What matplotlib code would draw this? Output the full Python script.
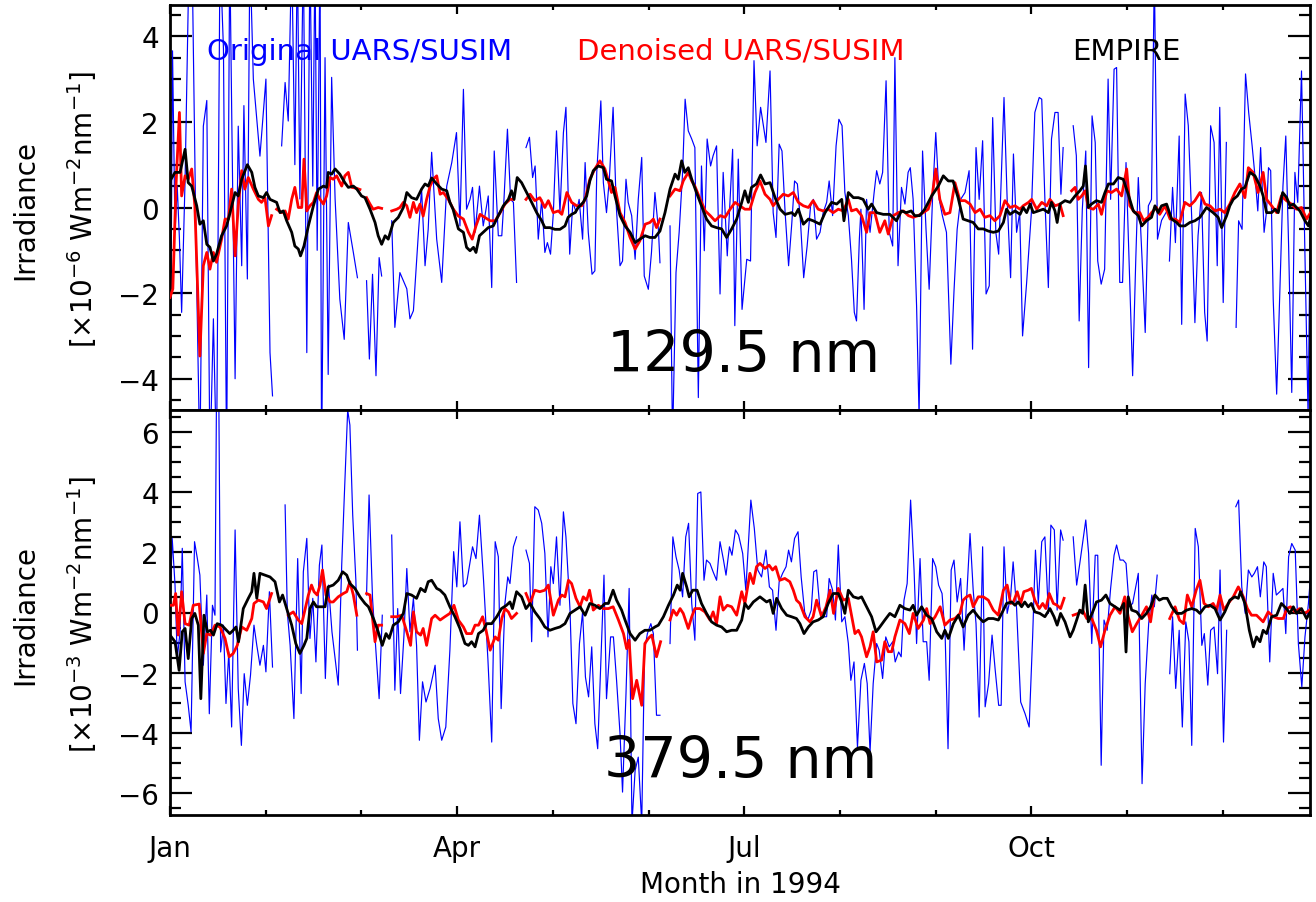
import numpy as np
import matplotlib
matplotlib.use("Agg")
import matplotlib.pyplot as plt
from matplotlib.ticker import FixedLocator, MultipleLocator, NullFormatter

plt.rcParams['font.family'] = ['DejaVu Sans']
plt.rcParams['mathtext.fontset'] = 'dejavusans'
plt.rcParams['mathtext.default'] = 'regular'

# ---------------- data: (day of 1994, value); None = missing day ----------------
top_black = [(0,0.62),(1.6,0.82),(3.2,0.82),(4.8,1.36),(5.8,0.58),(6.9,0.5),(8.5,0.04),(9.5,-0.39),(10.6,-0.31),(11.7,-0.86),(12.7,-0.93),(13.8,-1.25),(14.8,-1.09),(16.4,-0.66),(18,-0.43),(19.1,-0.12),(20.7,0.35),(21.7,0.27),(22.8,0.66),(24.6,1.0),(26,0.82),(27,0.47),(28.1,0.27),(29.7,0.23),(30.7,0.35),(31.8,0.19),(33.9,0.12),(35,-0.12),(36,-0.08),(37.1,-0.31),(38.7,-0.58),(39.7,-0.9),(40.8,-0.97),(41.5,-1.13),(42.6,-0.9),(44,-0.43),(45.6,0.04),(47.2,0.43),(48.8,0.5),(49.8,0.47),(50.3,0.82),(51.4,0.78),(52.5,0.9),(54,0.78),(55.6,0.58),(56.7,0.47),(58.3,0.5),(59.4,0.43),(60.9,0.27),(62,0.23),(63.6,-0.04),(65.2,-0.35),(66.2,-0.66),(67.3,-0.86),(68.4,-0.66),(69.4,-0.74),(71,-0.35),(72.6,-0.23),(74.2,0),(75.3,0.35),(76.8,0.23),(78.4,0.19),(80,0.43),(81.1,0.55),(82.1,0.5),(83.2,0.69),(84.8,0.55),(86.4,0.43),(88,0.39),(89,0.12),
 (90,-0.04),(91.7,-0.5),(93.3,-0.58),(94.3,-0.93),(95.4,-1.01),(96.5,-0.93),(97.3,-1.05),(98.4,-0.66),(99.6,-0.58),(101.2,-0.47),(102.8,-0.43),(104.4,-0.19),(106,0.04),(107.6,0.19),(108.6,0.39),(109.4,0.19),(110.4,0.7),(111.8,0.58),(113.4,0.35),(115,0.12),(116.6,-0.12),(118.2,-0.31),(119.2,-0.47),(120.8,-0.47),(122.4,-0.51),(124,-0.51),(125.6,-0.43),(126.6,-0.23),(127.7,-0.16),(128.8,-0.12),(129.8,0),(131.4,0.12),(132.5,0.27),(133.5,0.62),(134.6,0.86),(136.2,0.97),(137.8,0.93),(138.8,0.66),(140.4,0.62),(141.5,0.27),(143.1,-0.19),(144.7,-0.43),(146.3,-0.58),(147.9,-0.82),(149.4,-0.74),(151.1,-0.66),(152.6,-0.7),(154.2,-0.7),(155.8,-0.55),(157.4,-0.12),(159,0.43),(160.6,0.78),(161.6,0.66),(162.7,1.09),(163.7,0.82),(164.8,0.93),(165.9,0.66),(167.4,0.35),(169,0.04),(170.6,-0.27),(172.2,-0.43),(173.8,-0.47),(175.4,-0.5),(177,-0.7),(178.6,-0.5),(180.2,-0.27),
 (181.8,0.12),(182.8,0.39),(183.9,0.12),(184.9,0.47),(186.5,0.55),(187.8,0.76),(189.2,0.55),(190.8,0.58),(192.4,0.23),(194,-0.04),(195.6,-0.16),(197.7,-0.12),(198.7,-0.19),(199.8,-0.04),(201.4,-0.39),(203,-0.27),(204.5,-0.31),(206.7,-0.39),(208.3,-0.12),(210.4,0.12),(212,0.08),(213.6,0.19),(214.3,-0.31),(215.7,0.35),(217.3,0.23),(218.9,0.23),(220.4,0.19),(222,-0.04),(223.1,0.08),(224.7,-0.12),(226.8,-0.16),(228.9,-0.16),(231,-0.31),(232.6,-0.08),(234.1,-0.12),(235.7,-0.08),(236.8,-0.19),(238.4,-0.19),(240,-0.04),(242.2,0.27),(244.3,0.5),(245.9,0.74),(247.5,0.62),(249,0.62),(250.6,0.23),(252.2,-0.27),(253.8,-0.31),(255.4,-0.35),(257,-0.5),(258.6,-0.5),(260.2,-0.55),(261.8,-0.58),(263.4,-0.55),
 (265,-0.35),(266,-0.04),(267.1,-0.16),(268.7,-0.08),(270.3,-0.16),(271.3,0),(272.4,-0.12),(273.5,0.08),(274.5,-0.12),(276.1,-0.08),(277.7,-0.04),(279.3,-0.12),(280.3,0.12),(281.4,-0.08),(282.1,-0.35),(283,0.08),(284.6,0.16),(286.2,0.12),(287.8,0.27),(289.3,0.39),(290.4,0.5),(291.1,0.97),(292,0),(293,0.08),(294.6,0.16),(296.2,0.12),(297.3,0.35),(298.4,0.55),(300,0.55),(301.5,0.7),(303.1,0.66),(304.7,0.31),(306.3,-0.08),(307.9,-0.19),(309,-0.43),(310.5,-0.31),(312.1,-0.23),(313.2,0.04),(314.2,-0.12),(315.3,0.04),(316.9,0.08),(318.5,-0.27),(320.1,-0.35),(321.1,-0.43),(322.7,-0.43),(324.3,-0.35),(325.9,-0.31),(327.5,-0.23),(329.6,0),(331.7,-0.12),(333.3,-0.23),(334.4,-0.47),(336,-0.19),(337,0.04),(338.1,0.19),(339.4,0.27),(340.7,0.43),(341.8,0.47),(343.4,0.82),(345,0.74),(346.6,0.5),(347.6,0.27),(348.7,-0.12),(350.3,-0.12),(351.4,-0.04),(352.4,-0.12),(353.8,0.35),(355.1,0.23),(356.1,0.04),(357.2,0.08),(358.2,0),(359.3,-0.08),(360.9,-0.31),(362,-0.43),(363,-0.12)]

top_red = [(0,-2.1),(0.9,-1.9),(1.9,0.5),(3,2.22),(3.7,0.27),(4.8,0.74),(5.8,0.66),(6.9,0.9),(7.9,0.04),(9.5,-3.47),(10.6,-1.36),(11.7,-1.05),(12.7,-1.44),(13.8,-1.05),(14.8,-1.28),(16.4,-0.74),(17.5,-0.27),(18.6,-0.27),(19.6,0.43),(20.7,-1.13),(21.7,0.04),(22.8,0.86),(23.8,0.43),(24.9,0.7),(26.5,0.43),(28.1,0.19),(29.1,0.12),(30.2,0.23),(31.3,-0.43),(32.3,-0.19),(33.1,None),(33.9,-0.04),(35.5,-0.12),(36.6,-0.08),(37.6,-0.27),(38.7,0.19),(39.7,0.47),(40.8,0),(41.9,0),(42.6,1.13),(43.5,-0.08),(44.5,0.04),(45.6,0.12),(46.6,0.35),(47.7,0.19),(48.8,0.08),(49.8,0.27),(50.9,0.7),(51.9,0.66),(53,0.74),(54.6,0.5),(55.6,0.74),(56.7,0.82),(57.8,0.47),(59.3,0.45),(60.4,0.42),(61.4,None),(62.5,0.23),(63.6,0.08),(64.6,-0.04),(66.2,0),(67.3,-0.02),(68.9,None),(70.5,-0.08),(72.1,-0.04),(73.1,0),(74.2,0.12),(75.3,0.04),(76.3,-0.23),(77.4,0.12),(78.4,-0.12),(79.5,0.08),(80.5,-0.2),(81.6,0.19),(82.7,0.5),(83.7,0.66),(84.8,0.74),(85.9,0.31),(86.9,0.35),(88.5,0.19),(90.1,-0.04),(91.7,-0.2),
 (93.3,-0.27),(94.9,-0.58),(96.1,-0.74),(97.3,-0.43),(98.6,-0.16),(100.1,-0.23),(101.8,-0.31),(103.4,-0.31),(105,-0.12),(106.5,0.08),(108.1,0.19),(109.2,0.19),(111,None),(113.2,0.19),(114.5,0.31),(116,0.16),(117.6,0.23),(119.2,0),(120.3,0.16),(121.9,-0.12),(123.5,-0.08),(124.6,-0.16),(126.2,0.35),(127.7,0.12),(129.3,0.04),(130.9,0.04),(132,0.19),(133.5,0.66),(135.1,0.9),(136.7,1.09),(138.3,0.9),(139.4,0.62),(140.4,0.35),(141.5,0.47),(143.1,-0.12),(144.7,-0.35),(146.3,-0.7),(147.9,-0.97),(149.4,-0.78),(151.1,-0.39),(152.6,-0.35),(153.7,-0.27),(154.7,-0.47),(155.8,-0.27),(157.4,None),(159,0.27),(160.6,0.43),(162.2,0.39),(163.2,0.62),(164.8,0.82),(165.9,0.62),(166.9,0.5),(168.6,0.19),(170.2,-0.08),(171.8,-0.19),(173.3,-0.31),(175,-0.19),(176.5,-0.23),(178.1,-0.04),(179.7,0.12),
 (181.2,0.04),(182.8,-0.04),(184.4,-0.04),(186,0.35),(187.6,0.62),(189.2,0.31),(190.8,0.19),(191.8,0.04),(193.4,0.19),(195,0.31),(196.6,0.27),(198.2,0.35),(199.8,0.12),(201.4,0.04),(203,0),(204.5,0.16),(206.1,-0.04),(207.7,-0.08),(209.3,-0.04),(210.9,-0.12),(212.5,-0.04),(214.1,-0.08),(215.7,0.19),(216.7,-0.08),(218.3,-0.04),(219.9,-0.19),(221.5,-0.58),(222.6,-0.12),(224.1,-0.12),(225.7,-0.58),(227.3,-0.31),(228.4,-0.62),(230,-0.19),(231.6,-0.12),(233.2,-0.08),(234.8,-0.19),(236.3,-0.23),(237.9,-0.19),(239.5,-0.12),(241.1,-0.04),(242.5,0.35),(243.5,0.9),(244.8,0.19),(246.4,-0.16),(248,-0.12),(249.6,0.58),(251.2,0.16),(252.8,0.16),(254.4,0.08),(256,-0.12),(257.6,-0.04),(259.1,-0.23),(260.7,-0.19),(262.3,-0.31),(263.9,-0.19),(265.5,0.16),(267.1,0),(268.7,0.04),(270.3,-0.04),
 (271.3,0.04),(273,0.12),(274,0.19),(275.6,-0.04),(277.2,0.12),(278.8,0.04),(279.8,0.19),(281.4,0.04),(283,0.08),(284,-0.19),(285.4,None),(286.7,0.39),(287.8,0.47),(288.8,0.19),(289.9,0.27),(291,0.39),(292,0),(293.6,-0.04),(295.2,0.08),(296.2,-0.16),(297.9,0.39),(299.4,0.35),(301,0.43),(302.6,0.27),(304.2,0.9),(305.2,0.04),(306.8,-0.12),(308.4,-0.12),(309.6,-0.31),(311,-0.23),(312.1,-0.12),(313.7,0),(314.7,-0.16),(316.4,0.04),(318,-0.27),(319.6,-0.27),(321.1,-0.35),(322.7,0.12),(324.3,0.04),(325.9,0.16),(327.5,0.35),(329.1,0.08),(330.7,0.04),(332.3,-0.08),(333.9,-0.04),(335.4,-0.12),(337,0.08),(338.6,0.35),(340.2,0.55),(341.8,0.23),(342.9,0.93),(344.4,0.82),(346,0.35),(347.6,0.82),(348.7,0.19),(350.3,0.04),(351.9,-0.12),(353.4,0.27),(355,0.16),(356.6,0.08),(358.2,-0.04),(359.8,0),(361.4,-0.27),(363,-0.08)]

top_blue = [(0,-6),(0.8,3.66),(1.6,-0.58),(2.3,0.5),(3,-0.74),(3.7,-2.45),(4.8,0.66),(6.1,6),(7,6),(8.3,-1),(9.5,-6),(10.6,1.9),(11.7,2.5),(12.7,-6),(13.8,-2.6),(14.8,-6),(15.9,6),(17,3.7),(18,-6),(19,6),(19.7,1.75),(20.7,-4.0),(21.7,1.9),(22.8,-1.36),(23.5,2.38),(24.6,-1.67),(25.4,6),(26.5,3.0),(28.6,1.2),(30.5,3.0),(31.8,-3.39),(32.6,-4.4),(34,None),(35.5,1.44),(36.6,2.92),(37.6,2.02),(38.7,6),(39.7,1.0),(40.5,6),(41.3,0.2),(42.4,6),(43.5,-3.39),(44.5,6),(45.4,0.5),(46.1,6),(46.8,-1.0),(47.7,6),(48.2,-6),(49.3,3.5),(50.3,-3.9),(51.4,3.04),(52.5,0.2),(54,-2.14),(55.4,-3.08),(56.7,-0.35),(58.3,-1.05),(59.6,-1.64),(61,None),(62.5,-1.71),(63.4,-3.54),(64.4,-1.56),(65.5,-3.93),(66.5,-1.17),(67.3,-1.6),(69,None),(70.5,-0.31),(71.5,-2.8),(73.1,-1.52),(75.3,-1.9),(76.3,-2.6),(77.4,-2.41),(79,-0.58),(80,0.43),(81.1,-1.36),(82.1,-0.51),(83.2,1.29),(84.8,-0.74),
 (86.4,-1.75),(88,0.5),(89.6,1.05),(91.1,1.75),(92.2,-0.43),(93.3,2.76),(94.3,-0.04),(95.4,0.19),(96.2,0.47),(97,-0.58),(98.4,0.5),(99.6,-0.43),(101.2,0.27),(102.3,-1.87),(103.1,1.32),(104.4,-0.66),(105.5,-0.66),(106.2,0.19),(107.3,1.83),(108.3,0.19),(109.2,0.12),(110.2,-1.75),(111.7,None),(113.2,1.4),(114.3,1.64),(115.3,0.7),(116.1,0.97),(117.1,-0.74),(118.2,0.19),(119.2,-1.05),(120,-0.82),(121,-1.09),(121.9,-0.12),(122.9,1.79),(124,-0.12),(125.1,1.75),(125.9,2.34),(127.1,-1.09),(128.1,0.12),(129.2,-0.12),(130.1,0.19),(131.2,-0.74),(132,1.05),(133,-0.58),(134.2,-1.56),(135.1,-1.48),(135.7,0.82),(137,2.49),(137.8,0.58),(138.8,-0.12),(139.7,0.66),(140.9,2.34),(141.9,0.04),(143.1,-1.36),(143.9,-1.25),(145,0.66),(145.7,0.12),(146.8,-0.19),(147.9,-1.21),(148.9,0.19),(150,1.17),(150.8,-1.6),(152.1,-1.91),(153.1,-1.05),(154.2,0.35),(155.3,-0.51),(155.8,-1.29),(157.4,None),(159,-0.43),(159.8,-5.5),(160.9,-1.52),(161.9,-0.58),(163,0.82),(163.8,2.53),(164.8,1.79),(165.9,1.6),(166.9,1.4),(168,-4.44),(169,0.97),(169.9,-1.01),(170.8,1.6),(171.9,0.97),(172.7,1.21),(173.8,1.44),
 (174.9,-2.02),(175.9,0.82),(177.2,-1.13),(178.9,1.36),(179.6,-2.76),(180.7,1.13),(181.9,-2.38),(183.4,-1.21),(184.6,-1.25),(185.7,3.43),(186.7,1.44),(187.8,2.34),(189.5,1.52),(190.8,3.19),(191.8,-0.12),(192.7,-0.7),(193.7,1.48),(194.6,1.32),(195.6,-0.12),(196.7,-1.36),(197.7,-0.39),(198.6,0.62),(199.5,0.55),(200.5,-0.35),(201.5,-1.64),(202.6,-0.9),(203.7,0.04),(204.6,0.19),(205.6,-0.74),(206.7,-0.58),(207.7,-0.12),(208.8,0.12),(209.6,0.62),(210.7,-0.19),(211.8,1.44),(212.7,2.06),(213.7,1.91),(214.6,0.35),(215.7,-0.19),(216.7,-1.21),(217.6,-2.45),(218.3,-2.65),(219.2,-0.74),(219.7,-0.04),(220.7,-2.38),(221.5,0.19),(222.6,-0.58),(223.9,0.35),(224.7,0.86),(225.7,0.55),(226.6,0.82),(227.7,2.96),(228.7,-0.58),(229.8,-0.9),(230.5,3.5),(231.5,-1.36),(232.6,0.47),(233.7,0.08),(234.7,0.82),(235.4,0.93),(236.3,0.19),(237.4,-2.3),(238.2,-4.9),(239.3,1.32),(240.4,-0.51),(241.4,-1.91),(242.5,0.27),(243.5,1.75),(244.6,0.19),(245.6,-0.19),(246.9,-0.58),(248.3,-3.66),(249.3,-1.95),(250.3,-0.51),(251.4,0.19),(252.8,0.35),(254.1,0.86),(255.2,-3.31),(256.3,1.4),(257.3,0.19),(258.4,1.56),(259.5,-2.02),(260.5,-1.83),(261.6,2.1),(262.6,-0.58),(263.5,-1.09),(264.4,0.82),(265.2,2.57),(266.2,0.19),(267.3,-1.64),(268.2,1.25),(269.2,-0.58),(270.2,-0.12),
 (271.1,-3.0),(272.4,-1.75),(273.9,-0.12),(275,2.22),(276.4,2.57),(277.2,2.53),(278.2,0.19),(279.3,-1.87),(280.3,1.6),(281.4,2.22),(282.4,2.22),(283.3,0.31),(284,1.4),(285.6,None),(287.2,1.91),(288.2,1.21),(289.1,-2.65),(290.1,-0.04),(291.2,1.32),(292.1,-3.74),(293.2,2.14),(294.2,1.52),(295,-1.25),(296.1,-1.79),(297.2,-1.44),(298.3,3.0),(299.1,0.19),(300.2,3.23),(301,3.27),(302,-1.75),(302.9,-1.75),(304,1.05),(305,-1.36),(306.1,-3.93),(307.1,-1.21),(307.9,0.7),(309.1,-1.21),(310.1,-2.92),(311.1,0.04),(312.1,0.19),(313,5.5),(314,-0.74),(315.3,-0.3),(316.7,-0.12),(317.3,None),(317.8,-1.25),(318.8,0.47),(319.7,-0.82),(320.9,1.67),(321.7,-2.73),(322.8,2.65),(323.8,1.91),(324.9,-0.27),(325.9,-2.69),(326.9,-0.66),(328,0.35),(329,-2.45),(329.8,-3.12),(330.9,1.91),(332,1.52),(333,-1.36),(333.8,2.34),(334.9,-2.22),(335.9,1.52),(337.5,None),(339,-2.8),(339.8,-0.31),(340.9,-0.51),(342,3.12),(343,2.22),(344.1,1.44),(345.1,0.66),(345.9,-0.08),(346.8,1.4),(347.9,-0.58),(348.7,-0.08),(349.3,0.93),(350,0.86),(350.8,-2.14),(351.9,-4.36),(352.9,-1.99),(353.9,0.5),(354.8,1.67),(355.7,-0.9),(356.7,-4.32),(357.7,0.82),(358.6,0.12),(359.8,3.19),(360.8,-0.74),(361.9,-4.9),(362.7,0.58)]

bot_black = [(0,-0.75),(1.6,-0.97),(2.9,-1.92),(3.9,-0.64),(4.8,-0.53),(5.8,-1.53),(6.9,-0.2),(7.9,-0.03),(9,-0.42),(9.8,-2.86),(10.8,-0.09),(11.9,-0.64),(12.9,-0.59),(13.8,-0.75),(15,-0.37),(16.4,-0.42),(18,-0.59),(19,-0.7),(20.1,-0.59),(21,-0.48),(21.8,-0.97),(23.3,0.13),(24.9,0.47),(26,0.69),(26.7,1.3),(27.6,0.47),(28.6,1.3),(30.2,1.24),(31.8,1.18),(33.4,1.02),(34.8,0.35),(35.8,0.58),(37.1,0.13),(38.7,-0.42),(40,-1.03),(41.3,-1.36),(42.6,-1.09),(43.5,-0.86),(44.5,0.13),(45.6,0.35),(46.6,0.19),(48.2,0.19),(49.3,0.19),(50.3,0.85),(51.9,0.91),(53.5,1.07),(54.9,1.35),(56.2,1.24),(57.2,0.96),(58.8,0.8),(60.4,0.52),(62,0.3),(63.1,0.19),(64.7,-0.2),(66.2,-0.64),(67.5,-1.09),(68.7,-0.7),(69.7,-0.86),(71,-0.42),(72.6,-0.31),(74.2,-0.03),(75.3,0.63),(76.8,0.58),(78.4,0.47),(79.7,0.8),(81.1,0.69),(82.1,1.02),(83.2,1.07),(84.8,0.8),
 (85.9,0.74),(87.4,0.58),(89,0.19),(90.6,-0.14),(92.2,-0.53),(93.8,-1.03),(94.9,-1.09),(95.9,-0.97),(97,-1.14),(98.1,-0.7),(99.6,-0.59),(100.7,-0.37),(102.3,-0.37),(103.9,-0.14),(105.4,0.13),(107,0.24),(108.1,0.35),(108.9,0.13),(110.2,0.69),(111.8,0.52),(113.2,0.13),(114.5,0.3),(116,0.02),(117.6,-0.2),(119.2,-0.48),(120.8,-0.59),(122.4,-0.53),(124,-0.48),(125.6,-0.37),(127.2,-0.03),(128.8,0.08),(130.4,0.19),(132,-0.09),(133.5,0.3),(135.1,0.24),(136.7,0.13),(138.3,0.3),(139.4,0.3),(140.9,0.74),(142,0.41),(143.6,0.08),(144.7,-0.25),(146.3,-0.7),(147.9,-0.92),(149.4,-0.7),(151,-0.59),(152.6,-0.59),(154.2,-0.48),(155.3,-0.42),(156.9,-0.14),(158.5,0.24),(160.1,0.58),(161.3,0.91),(162.2,0.74),(163,1.3),(164.3,0.85),(165.1,0.52),(166.2,0.74),(167.6,0.74),(169,0.3),(170.6,-0.03),(172.2,-0.31),(173.8,-0.42),(175.4,-0.48),(177,-0.64),(178.6,-0.59),(180.2,-0.59),
 (181.8,-0.25),(182.8,0.3),(183.9,0.13),(185.5,0.35),(187.6,0.52),(189.7,0.35),(190.8,0.41),(191.8,-0.03),(192.9,0.47),(194.5,0.13),(196.1,-0.09),(197.6,-0.14),(199.2,-0.2),(200.3,-0.37),(201.6,-0.7),(203,-0.48),(204.5,-0.31),(206.1,-0.25),(207.7,-0.14),(209.3,0.3),(210.9,0.63),(212.5,0.63),(213.6,0.35),(214.6,-0.03),(215.7,0.74),(217.3,0.52),(218.9,0.47),(219.9,0.52),(221.5,0.19),(223.1,-0.14),(224.5,-0.64),(225.7,-0.48),(227.3,-0.25),(228.9,-0.03),(230.5,-0.14),(232.1,0.24),(233.7,0.13),(235.3,0.08),(236.3,0.24),(237.4,-0.09),(239,0.19),(240.6,-0.09),(242.2,-0.2),(243.8,-0.64),(245.4,-0.86),(246.4,-0.59),(247.5,-0.86),(249.1,-0.37),(250.7,-0.09),(252.2,-0.48),(253.8,-0.09),(255.4,0.08),(257,-0.14),(258.6,-0.31),(260.2,-0.2),(261.8,-0.2),(263.4,-0.25),
 (265,0.08),(266,0.3),(267.6,0.35),(268.7,0.24),(269.7,0.35),(270.8,0.19),(271.8,0.35),(272.9,0.19),(273.9,0.3),(275,0.02),(276.6,-0.03),(278.2,-0.14),(279.8,0.13),(281.1,-0.14),(282.1,-0.42),(283.2,-0.03),(284.6,-0.31),(286.2,-0.81),(287.2,-0.59),(288.3,-0.25),(289.3,0.08),(290.2,-0.03),(291,0.91),(292,-0.31),(293.4,0.02),(294.6,0.35),(296.2,0.41),(297.6,0.58),(298.9,0.3),(300.5,0.19),(302.1,0.08),(303.3,0.3),(304,-1.31),(304.7,0.52),(305.8,0.08),(307.4,0.02),(309,-0.2),(310.5,-0.03),(311.8,0.19),(313.2,0.58),(314.6,0.41),(315.8,0.47),(317.1,0.47),(318.5,0.19),(320.1,-0.03),(321.7,-0.03),(323.3,0.08),(324.9,0.13),(326.4,0.08),(327.5,-0.03),(329.1,0.19),(330.7,0.24),(332.3,0.13),(333.9,-0.25),(335.4,0.02),(337,0.41),(338.6,0.52),(339.7,0.47),(340.4,0.69),(341.8,0.3),(343.2,-0.59),(344.5,-1.14),(345.5,-0.81),(346.6,-0.97),(347.6,-0.59),(348.7,-0.7),(350.3,-0.14),(351.9,-0.09),(353.4,0.3),(355,0.13),(356.1,-0.03),(357.2,0.19),(358.2,-0.03),(359.8,0.13),(361.4,-0.2),(363,0.08)]

bot_red = [(0,0.24),(1.1,0.24),(1.8,0.63),(2.6,-0.75),(3.7,0.69),(4.8,-0.37),(6.1,-0.42),(7.4,0.24),(9.3,0.28),(10.6,-1.36),(11.7,-0.7),(12.9,-0.75),(14.3,-0.42),(15.9,-0.48),(17.5,-0.86),(18.8,-1.47),(20.1,-1.36),(21.4,-1.09),(22.8,-0.48),(24.4,-0.59),(26,-0.2),(26.7,0.3),(28.1,0.41),(29.7,0.35),(30.7,0.13),(32.3,0.63),(35,None),(37.6,-0.09),(39.2,0.02),(40.8,-0.25),(41.9,-0.37),(43,0.13),(44,0.58),(45,0.91),(45.8,0.69),(46.8,0.58),(47.7,0.91),(48.5,1.41),(49.6,0.58),(50.9,0.35),(51.9,0.35),(53.5,0.52),(55.1,0.63),(56.2,0.69),(57.2,1.02),(58.3,0.58),(59.4,-0.09),(61,None),(62.5,0.63),(63.6,0.58),(65.2,-0.97),(66.2,-0.42),(67.3,-0.42),(69,None),(70.5,-0.14),(72.1,-0.14),(73.7,-0.09),(75.3,-0.64),(76.5,-1.09),(77.4,0.02),(78.4,-0.64),(79.7,-0.75),(80.5,-0.53),(81.6,-1.09),(83.2,-0.2),(84.3,-0.09),
 (85.9,-0.25),(87.4,-0.14),(89,-0.03),(90.3,0.24),(91.7,-0.25),(93.3,-0.48),(94.3,-0.7),(95.9,-0.7),(97,-0.42),(98.1,-0.42),(99.4,-0.14),(100.5,-0.59),(101.8,-1.25),(103.4,-0.81),(104.4,-0.92),(105.5,-0.2),(106.5,0.13),(107.6,0.02),(108.6,-0.2),(110.2,-0.03),(111.7,None),(113.2,0.63),(114.5,0.3),(116,0.74),(117.6,0.69),(119.2,0.74),(120.3,0.91),(121.9,-0.09),(123.5,0.41),(124.6,0.58),(125.6,0.52),(126.7,1.07),(127.7,0.96),(129.1,0.47),(130.4,0.19),(131.4,0.52),(132.5,0.41),(133.4,0.74),(134.6,0.08),(136.2,0.24),(137.8,0.13),(139.4,0.13),(140.9,0.19),(142.6,-0.25),(144.2,-0.7),(145.2,-1.2),(146,-0.92),(147.1,-2.86),(148.4,-2.25),(150,-3.08),(151,-1.03),(152.1,-0.86),(153.2,-0.75),(154.7,-1.47),(156,-0.97),(157.5,None),(159,-0.25),(160,0.08),(161.1,-0.09),(162.2,0.13),(163.2,-0.03),(164.8,-0.53),(165.9,-0.14),(166.9,0.13),(168.5,0.13),(170.1,0.02),(171.7,-0.25),(172.7,0.02),(173.8,-0.37),(174.9,0.52),(175.9,0.08),(177.2,0.24),(178.6,0.19),(180.2,-0.09),
 (181.8,0.69),(182.8,0.3),(184.4,1.3),(185.5,0.96),(186.5,1.52),(187.6,1.63),(189.2,1.46),(190.5,1.57),(191.6,1.41),(192.6,1.52),(193.9,1.07),(195.5,1.13),(197.1,1.02),(198.2,0.74),(199.2,0.41),(200.3,0.3),(201.9,-0.14),(203.5,-0.31),(204.5,-0.14),(205.6,0.41),(207.2,-0.14),(208.6,0.19),(209.9,0.74),(211,-0.03),(212.5,0.8),(214.1,0.41),(215.7,0.47),(216.8,-0.14),(217.8,-0.7),(218.9,-0.59),(219.9,-0.81),(221.5,-1.47),(222.6,-1.14),(223.6,-0.64),(224.7,-1.64),(226.3,-1.58),(227.3,-0.97),(228.4,-1.3),(229.5,-1.3),(230.5,-0.81),(232.1,-0.25),(233.7,-0.37),(235.1,-0.7),(236.3,-0.03),(237.9,-0.53),(239.6,-0.25),(240.6,0.13),(241.7,-0.37),(243.3,-0.14),(244.9,0.19),(246.4,-0.42),(248,-0.25),(249.6,-0.2),(251.2,-0.03),(252.2,0.41),(253.3,0.52),(254.4,0.58),(255.4,0.19),(257,0.52),(258.6,0.52),(260.2,0.41),(261.8,0.08),(263.4,-0.09),
 (265,0.74),(266.2,0.91),(267.3,0.3),(268.2,0.35),(269.4,0.69),(270.5,0.3),(271.5,0.69),(272.9,0.74),(273.9,0.8),(275,0.41),(276.4,0.13),(277.5,0.3),(278.5,0.13),(279.6,0.63),(280.9,0.3),(282.1,0.24),(283.2,0.13),(284.3,0.47),(285.7,None),(287.2,-0.09),(288.8,-0.03),(290.2,0.08),(291.5,-0.2),(293.1,-0.2),(294.6,-0.59),(295.9,-1.14),(297.3,-0.59),(298.9,-0.09),(300.5,0.19),(302.1,-0.03),(303.6,0.52),(304.7,-0.14),(306,-0.64),(307.4,-0.37),(309,-0.09),(310.5,0.19),(311.8,-0.31),(312.9,0.52),(315.5,None),(317.9,-0.2),(319.6,0.19),(321,-0.25),(322.3,-0.37),(323.5,0.58),(324.9,0.19),(326.3,0.74),(327.5,1.07),(328.8,0.3),(330.2,0.19),(331.7,0.3),(332.8,0.08),(333.9,0.58),(335.1,0.08),(336.5,0.3),(338.1,0.52),(339.7,0.85),(341.3,0.52),(342.6,0.13),(343.9,-0.09),(345.5,-0.09),(347.6,-0.31),(349.2,0.02),(350.8,-0.14),(352.4,-0.2),(354,-0.2),(355.1,0.13),(356.3,0.19),(357.7,0.02),(359.2,0.13),(360.8,-0.03),(362.4,0.08)]

bot_blue = [(0,0.02),(0.7,2.46),(1.6,0.91),(2.3,-1.53),(3.2,-0.64),(3.9,2.13),(4.8,-2.3),(5.8,-3.08),(6.7,-3.96),(7.8,2.35),(8.7,1.79),(9.5,1.24),(10.6,-1.75),(11.7,0.58),(12.5,-3.36),(13.5,0.24),(14.3,-0.09),(14.8,7.5),(15.5,7.5),(16.1,-1.31),(17,-0.42),(17.8,-3.02),(18.7,-1.31),(19.6,-3.8),(20.7,2.74),(21.7,-2.52),(22.7,-4.41),(23.6,-2.03),(24.6,-3.08),(25.6,-2.08),(26.7,-0.42),(27.6,-1.09),(28.6,-1.75),(29.7,-1.09),(30.5,-1.97),(31.6,0.69),(32.6,-1.81),(34.5,None),(36.6,3.57),(37.3,0.02),(38.2,-1.09),(39.4,-3.52),(40.6,1.79),(41.7,-2.69),(42.4,1.35),(43.5,2.46),(44.5,-0.86),(45.4,0.47),(46.4,-1.64),(47.5,1.57),(48.3,2.24),(49.4,-2.19),(50.4,0.91),(51.5,-0.64),(52.5,-1.53),(53.5,-2.41),(54.6,1.57),(55.4,3.79),(56.5,6.72),(57.2,6.22),(58.1,3.23),(59.1,1.07),(59.6,-1.25),(61,None),(62.5,0.58),(63.3,3.9),(64.4,0.47),(65.5,-1.31),(66.5,-2.86),(67.5,-0.09),(69,None),(70.5,2.57),(71.5,-2.58),(72.4,0.13),(73.3,-2.69),(74.4,-0.75),(75.3,1.46),(76.3,-0.64),(77.4,0.47),(78.4,-1.09),(79.3,-4.24),(80.3,-2.3),(81.4,-2.97),(82.7,-2.52),(84.3,-1.75),(85.3,-3.52),(86.4,-4.24),(87.7,-3.8),
 (89,-1.25),(90.2,2.02),(91.2,0.85),(92.2,3.01),(93.3,0.85),(94.3,0.96),(96.2,2.18),(97.3,1.79),(98.4,3.23),(99.7,1.07),(101.1,-1.58),(102.3,-4.3),(103.4,2.35),(104.4,1.85),(105.3,-3.19),(106.5,0.3),(107.4,1.18),(108.1,0.96),(109.2,2.18),(110.2,2.51),(111.7,None),(113.2,2.07),(114.3,1.63),(115,-0.97),(116,3.51),(117.1,3.4),(118.2,2.96),(119.2,1.96),(120.2,-0.81),(121.1,1.52),(121.9,0.96),(122.9,2.51),(124,0.24),(125.1,3.34),(125.9,2.51),(127.2,0.08),(128.1,-3.02),(129.1,-3.69),(130.2,-1.03),(131.2,0.02),(132.1,-2.14),(133.1,-2.8),(134.1,-1.14),(135.1,-3.69),(136,-4.52),(137,-1.69),(138,1.24),(138.8,-2.86),(140.1,-0.81),(141,-0.81),(142,-2.25),(143.1,-4.02),(143.9,-5.96),(145,-2.69),(146,0.8),(146.9,-7),(147.9,-5.24),(148.9,-4.8),(150,-7),(150.9,-1.25),(151.8,-0.7),(152.9,-0.37),(153.7,-0.7),(154.7,-3.41),(155.8,-3.41),(157.4,None),(159,-1.03),(159.9,2.51),(160.9,1.85),(161.9,1.41),(163,0.52),(164,2.51),(164.9,2.96),(165.9,0.3),(166.9,-0.92),(167.8,3.95),(168.8,4.0),(169.8,1.07),(170.6,1.74),(171.7,1.63),(172.7,1.35),(173.8,1.07),
 (174.9,2.35),(176,1.74),(176.8,1.24),(177.9,2.18),(178.7,1.9),(179.8,2.74),(180.8,2.57),(182.1,1.96),(183.1,0.74),(184.7,3.73),(185.8,2.79),(186.9,1.41),(188.1,1.18),(189.5,2.07),(190.6,0.85),(191.6,0.74),(192.7,-0.59),(193.7,1.02),(194.8,1.3),(195.9,1.52),(196.7,2.07),(197.6,1.68),(198.6,2.46),(199.7,2.68),(200.7,1.18),(201.8,0.02),(202.8,-0.25),(203.9,0.08),(204.7,1.35),(205.6,1.41),(206.7,0.08),(207.7,-0.14),(208.8,-0.14),(209.6,1.13),(210.7,0.74),(211.6,-0.25),(212.5,2.24),(213.6,-0.31),(214.6,-0.14),(215.7,-1.03),(216.5,-2.25),(217.5,-1.64),(218.6,-4.47),(219.7,-2.25),(220.8,-1.69),(221.7,-2.36),(222.6,-4.63),(223.6,-2.36),(224.7,-1.03),(225.5,-1.25),(226.6,-2.19),(227.6,-0.81),(228.7,-1.14),(229.8,-0.97),(230.6,-1.64),(231.7,-1.31),(232.5,-1.47),(233.4,0.41),(234.4,0.96),(235.5,3.73),(236.6,1.41),(237.4,-1.03),(238.5,1.79),(239.5,-0.97),(240.6,-0.97),(241.4,-2.25),(242.5,1.79),(243.5,1.52),(244.4,0.91),(245.5,0.63),(246.5,-0.81),(247.4,-4.52),(248.4,1.41),(249.3,1.74),(250.3,0.35),(251.4,1.13),(252.5,-1.25),(253.5,0.85),(254.4,2.62),(255.4,0.74),(256.3,-0.37),(257.3,-3.47),(258.4,2.18),(259.2,-3.13),(260.3,-2.36),(261.4,-0.75),(262.4,-1.91),(263.5,-3.08),(264.3,-3.08),(265.2,2.18),(266.2,-0.03),(267.3,0.52),(268.1,1.68),(269.2,0.13),
 (270.5,-2.97),(271.9,-3.36),(273.2,-3.8),(274.3,-0.81),(275.2,2.07),(276.1,0.3),(277.2,2.35),(278.2,2.51),(279.3,-0.03),(280.1,2.9),(281.2,2.74),(282.1,0.08),(283.2,2.74),(284,2.4),(285.6,None),(287.2,2.51),(288.3,0.91),(289.3,1.63),(290.4,2.46),(291.2,3.07),(292.1,1.96),(293.1,-1.03),(294.2,1.9),(295,1.9),(296.1,-5.07),(297,-0.25),(298,-0.59),(299.1,0.8),(300.2,1.9),(301,2.24),(302.1,1.74),(303.1,1.74),(304,1.63),(305,0.19),(306.1,0.3),(307.1,0.85),(307.9,1.3),(309.1,-5.68),(310.1,-2.36),(311.2,-0.37),(312.2,0.58),(313,0.19),(313.9,1.24),(316,None),(317.9,-2.03),(318.8,-0.14),(319.8,-2.52),(320.9,-0.59),(321.9,-3.8),(323,-0.31),(324,-0.97),(324.9,-4.41),(326,2.79),(327,2.18),(328.1,-1.09),(328.9,-0.7),(330,-2.41),(330.9,-0.59),(332,-0.48),(333.1,-2.03),(333.9,1.41),(335,-4.3),(336,-0.59),(337.5,None),(338.9,3.51),(339.8,3.73),(340.8,0.85),(341.9,-0.03),(342.9,1.41),(344,1.18),(344.8,1.3),(345.8,1.52),(346.7,0.52),(347.8,1.68),(348.6,1.52),(349.7,-1.64),(350.8,1.3),(351.8,0.58),(352.9,0.69),(353.9,0.8),(354.8,-0.7),(355.7,1.85),(356.7,2.29),(357.8,2.07),(358.8,-1.03),(359.9,-2.47),(360.9,-0.81),(362,0.3),(362.8,1.41)]

month_labels = ['Jan', 'Apr', 'Jul', 'Oct']
series_labels = ['Original UARS/SUSIM', 'Denoised UARS/SUSIM', 'EMPIRE']
panel_titles = ['129.5 nm', '379.5 nm']
unit_labels = [r'[$\times$10$^{-6}$ Wm$^{-2}$nm$^{-1}$]', r'[$\times$10$^{-3}$ Wm$^{-2}$nm$^{-1}$]']


def xy(pairs):
    d = np.array([p[0] for p in pairs], float)
    v = np.array([np.nan if p[1] is None else p[1] for p in pairs], float)
    return d, v


W, H = 1316, 903
fig = plt.figure(figsize=(W / 100, H / 100), dpi=100)
L = 170 / W
AW = 1140 / W
AH = 405 / H
ax1 = fig.add_axes([L, 1 - 411 / H, AW, AH])
ax2 = fig.add_axes([L, 1 - 816 / H, AW, AH])

month_len = 365.25 / 12
major_x = [i * month_len for i in (0, 3, 6, 9)]
minor_x = [i * month_len for i in range(12) if i % 3 != 0]

panels = [(ax1, top_blue, top_red, top_black, 4.73),
          (ax2, bot_blue, bot_red, bot_black, 6.72)]
for k, (ax, blue, red, black, ylim) in enumerate(panels):
    ax.plot(*xy(blue), color='#0000ff', lw=0.85, zorder=2)
    ax.plot(*xy(red), color='#ff0000', lw=2.0, zorder=3)
    ax.plot(*xy(black), color='black', lw=2.0, zorder=4)
    ax.set_xlim(0, 362.5)
    ax.set_ylim(-ylim, ylim)
    ax.xaxis.set_major_locator(FixedLocator(major_x))
    ax.xaxis.set_minor_locator(FixedLocator(minor_x))
    ax.yaxis.set_major_locator(MultipleLocator(2))
    ax.yaxis.set_minor_locator(MultipleLocator(0.5))
    ax.tick_params(axis='x', which='major', direction='in', length=6.5, width=1.6,
                   top=True, bottom=True, labelsize=20, pad=14)
    ax.tick_params(axis='x', which='minor', direction='in', length=3.5, width=1.6,
                   top=True, bottom=True)
    ax.tick_params(axis='y', which='major', direction='in', length=16, width=1.6,
                   left=True, right=True, labelsize=20, pad=8)
    ax.tick_params(axis='y', which='minor', direction='in', length=8, width=1.6,
                   left=True, right=True)
    for s in ax.spines.values():
        s.set_linewidth(2.0)
    if k == 0:
        ax.set_xticklabels([])
    else:
        ax.set_xticklabels(month_labels)

# y-axis labels
for ycen, unit in ((210, unit_labels[0]), (615, unit_labels[1])):
    fig.text(25 / W, 1 - ycen / H, 'Irradiance', rotation=90, ha='center', va='center', fontsize=20)
    fig.text(82 / W, 1 - ycen / H, unit, rotation=90, ha='center', va='center', fontsize=20)

# series labels
fig.text(207 / W, 1 - 60 / H, series_labels[0], color='#0000ff', fontsize=21, ha='left', va='baseline')
fig.text(577 / W, 1 - 60 / H, series_labels[1], color='#ff0000', fontsize=21, ha='left', va='baseline')
fig.text(1072 / W, 1 - 60 / H, series_labels[2], color='black', fontsize=21, ha='left', va='baseline')

# wavelength labels
fig.text(744 / W, 1 - 372 / H, panel_titles[0], fontsize=41, ha='center', va='baseline', zorder=10)
fig.text(741 / W, 1 - 778 / H, panel_titles[1], fontsize=41, ha='center', va='baseline', zorder=10)

fig.text(740 / W, 1 - 893 / H, 'Month in 1994', fontsize=20, ha='center', va='baseline')

fig.savefig('out.png', dpi=100)
